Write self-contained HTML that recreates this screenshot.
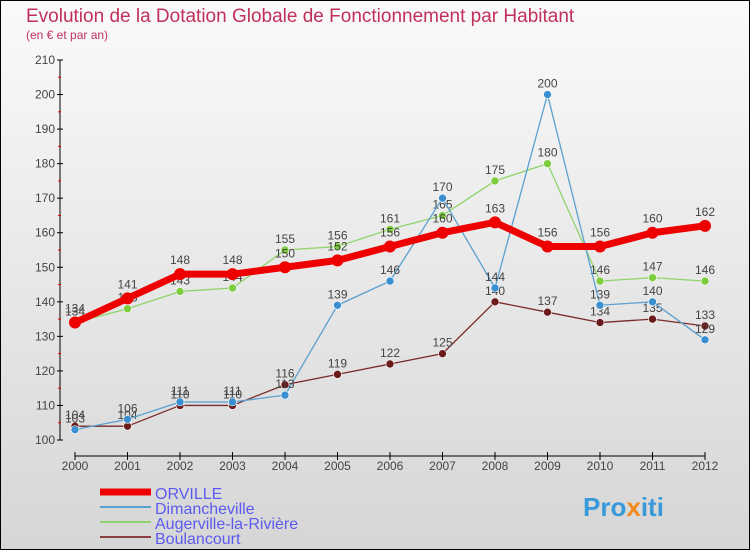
<!DOCTYPE html>
<html><head><meta charset="utf-8"><style>
html,body{margin:0;padding:0}
body{width:750px;height:550px;overflow:hidden;font-family:"Liberation Sans",sans-serif}
svg{display:block}
</style></head><body>
<svg id="chart" width="750" height="550" xmlns="http://www.w3.org/2000/svg">
<defs><linearGradient id="bg" x1="0" y1="0" x2="0" y2="1"><stop offset="0" stop-color="#fafafa"/><stop offset="1" stop-color="#d6d6d6"/></linearGradient></defs>
<rect x="0.5" y="0.5" width="749" height="549" fill="url(#bg)" stroke="#000"/>
<text x="26" y="22" font-size="19" fill="#c0305a">Evolution de la Dotation Globale de Fonctionnement par Habitant</text>
<text x="26" y="39" font-size="12" fill="#c0305a">(en € et par an)</text>
<g id="axes"></g><g id="series"></g><g id="legend"></g>
<text x="583" y="516" font-size="26" font-weight="bold" fill="#3a9ad9">Pro<tspan fill="#f08a1c">x</tspan>iti</text>
</svg>
<script>
const years=[2000,2001,2002,2003,2004,2005,2006,2007,2008,2009,2010,2011,2012];
const yTicks=[100,110,120,130,140,150,160,170,180,190,200,210];
const orville=[134,141,148,148,150,152,156,160,163,156,156,160,162];
const dimancheville=[103,106,111,111,113,139,146,170,144,200,139,140,129];
const augerville=[134,138,143,144,155,156,161,165,175,180,146,147,146];
const boulancourt=[104,104,110,110,116,119,122,125,140,137,134,135,133];
const NS="http://www.w3.org/2000/svg";
const X=i=>75+i*52.5, Y=v=>440-(v-100)*3.4545;
function mk(t,a,p){const e=document.createElementNS(NS,t);for(const k in a)e.setAttribute(k,a[k]);p.appendChild(e);return e;}
const ax=document.getElementById('axes');
let e=mk('line',{x1:60,y1:60,x2:60,y2:440,stroke:'#000'},ax);


e=mk('line',{x1:75,y1:456,x2:705,y2:456,stroke:'#000'},ax);


yTicks.forEach(v=>{
 const l=mk('line',{x1:57,y1:Y(v),x2:63,y2:Y(v),stroke:'#000'},ax);
 
 
 if(v<210){const m=mk('line',{x1:58,y1:Y(v+5),x2:61,y2:Y(v+5),stroke:'#e00'},ax);
 
 }
 const t=mk('text',{x:55,y:Y(v)+4,'text-anchor':'end','font-size':12,fill:'#444'},ax);t.textContent=v;
 
 
});
years.forEach((y,i)=>{
 const l=mk('line',{x1:X(i),y1:452,x2:X(i),y2:460,stroke:'#000'},ax);
 
 
 const t=mk('text',{x:X(i),y:466+4,'text-anchor':'middle','font-size':12,fill:'#444'},ax);t.textContent=y;
 
 
});
const sg=document.getElementById('series');
const defs=[
 {n:'boulancourt',d:boulancourt,c:'#7a2a2a',w:1.3,r:4,f:'#6b1a1a'},
 {n:'augerville',d:augerville,c:'#8fd46a',w:1.3,r:4,f:'#7ccc3c'},
 {n:'dimancheville',d:dimancheville,c:'#5aa0d0',w:1.3,r:4,f:'#3a8fd0'},
 {n:'orville',d:orville,c:'#ee0000',w:7,r:6,f:'#ee0000'}
];
defs.forEach(s=>{
 const g=mk('g',{},sg);
 
 
 const p=mk('polyline',{points:s.d.map((v,i)=>X(i)+','+Y(v)).join(' '),fill:'none',stroke:s.c,'stroke-width':s.w,'stroke-linejoin':'round'},g);
 
 
 s.d.forEach((v,i)=>{
  const c=mk('circle',{cx:X(i),cy:Y(v),r:s.r,fill:s.f,stroke:s.n=='orville'?'#ee0000':'#fff','stroke-width':s.n=='orville'?0:0.6},g);
  
  
  const t=mk('text',{x:X(i),y:Y(v)-(s.n=='orville'?10:7),'text-anchor':'middle','font-size':12,fill:'#444'},g);t.textContent=v;
  
  
 });
});
const lg=document.getElementById('legend');
const items=[['ORVILLE','#ee0000',7],['Dimancheville','#5aa0d0',2],['Augerville-la-Rivière','#8fd46a',2],['Boulancourt','#8a4040',2]];
items.forEach((it,i)=>{
 const y=492+i*15;
 const l=mk('line',{x1:100,y1:y,x2:151,y2:y,stroke:it[1],'stroke-width':it[2]},lg);
 
 
 const t=mk('text',{x:155,y:y+7,'font-size':16,fill:'#5b5bf0'},lg);t.textContent=it[0];
 
 
});
</script>
</body></html>
